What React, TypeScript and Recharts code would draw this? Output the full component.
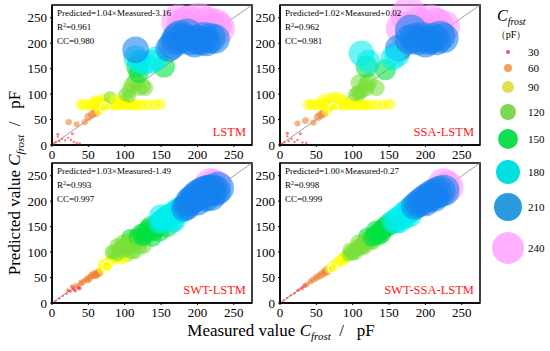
import React from 'react';
import { ScatterChart, Scatter, XAxis, YAxis, ReferenceLine, ReferenceArea } from 'recharts';

const axisTicks = [0, 50, 100, 150, 200, 250];
const axisMax = 275;

// colour bins by predicted value
const binUpper = [35, 65, 93, 128, 158, 186, 228];
const binColors = ['#ff2020', '#f08030', '#ffff00', '#78e038', '#00e040', '#00eeee', '#1482f0', '#ff98ff'];

// legend
const legendValues = [30, 60, 90, 120, 150, 180, 210, 240];
const legendColors = ['#f25566', '#f2a060', '#e0e050', '#80d850', '#10dd50', '#00e0e0', '#2a9be0', '#ffb0ff'];

// ---------- LSTM ----------
const lstmMeasured = [
  174, 188, 202, 214, 224, 229, 180,
  2, 5, 8, 8, 10, 14, 18, 22, 26, 28, 30, 34, 38,
  23, 34, 45, 50, 55, 60, 64,
  40, 45, 50, 55, 58, 62, 66, 70, 74, 78, 82, 86, 90, 94, 98, 102, 106, 110, 114, 118, 124, 132, 141, 149,
  60, 68, 76, 80, 88, 96, 65,
  101, 106, 110, 115, 124, 128, 119,
  106, 119, 117, 154,
  120, 138, 143, 128, 115,
  115, 161, 165, 172, 176, 182, 190, 196, 200, 206, 212, 218, 224, 208, 186, 170,
];
const lstmPredicted = [
  242, 240, 245, 238, 235, 229, 235,
  3, 6, 21, 16, 8, 12, 9, 14, 10, 22, 6, 4, 3,
  45, 41, 45, 55, 60, 64, 67,
  79, 80, 78, 80, 82, 79, 81, 78, 80, 79, 80, 78, 80, 79, 81, 80, 78, 80, 79, 78, 79, 79, 79, 80,
  86, 88, 90, 93, 88, 86, 72,
  99, 107, 118, 125, 116, 112, 112,
  96, 141, 154, 154,
  164, 164, 170, 160, 172,
  187, 190, 196, 211, 215, 210, 205, 200, 207, 205, 203, 210, 208, 212, 218, 205,
];
const lstmRingM = [73];
const lstmRingP = [73];

// ---------- SSA-LSTM ----------
const ssaMeasured = [
  177, 168, 190, 207, 215, 225, 180,
  2, 6, 10, 10, 12, 16, 20, 24, 28, 31, 36,
  24, 35, 46, 52, 56, 60, 64,
  39, 44, 49, 54, 58, 62, 66, 70, 74, 78, 82, 86, 90, 94, 98, 102, 106, 110, 114, 118, 124, 132, 142, 151,
  60, 68, 76, 82, 90, 66,
  103, 109, 119, 133, 112, 107,
  109, 122, 145, 118,
  119, 122, 161, 163, 155, 112,
  185, 190, 196, 200, 205, 210, 215, 220, 225, 178,
];
const ssaPredicted = [
  255, 229, 238, 242, 236, 232, 225,
  3, 5, 23, 17, 8, 12, 6, 10, 22, 5, 4,
  42, 48, 44, 55, 59, 62, 66,
  79, 80, 78, 80, 81, 79, 80, 78, 80, 79, 80, 78, 80, 79, 81, 80, 78, 80, 79, 78, 79, 79, 79, 80,
  88, 90, 92, 90, 86, 72,
  99, 122, 111, 112, 106, 103,
  101, 125, 148, 118,
  154, 164, 178, 190, 170, 180,
  210, 205, 212, 200, 206, 210, 205, 214, 210, 207,
];
const ssaRingM = [73];
const ssaRingP = [72];

// ---------- SWT-LSTM ----------
const swtMeasured = [
  218, 224, 228,
  5, 10, 15, 20, 25, 28, 30, 33, 36, 40, 22, 32, 38,
  40, 44, 48, 52, 55, 58, 62, 65, 50, 60,
  68, 72, 75, 78, 80, 84, 70, 76, 88,
  104, 114, 126, 138, 148, 82, 90, 98, 108,
  95, 100, 110, 120, 85, 90, 92, 96, 100, 102, 105, 108, 110, 112, 115, 118, 120, 122, 125, 128, 130, 133, 136, 140, 145,
  158, 168, 165, 150, 148, 152, 156, 160, 165, 170, 175, 178, 182,
  186, 188, 192, 196, 200, 204, 208, 212, 216, 220, 224, 200, 210, 218,
];
const swtPredicted = [
  232, 230, 226,
  4, 9, 14, 18, 23, 32, 27, 35, 30, 38, 25, 24, 29,
  40, 43, 47, 50, 54, 56, 58, 60, 45, 54,
  66, 70, 76, 80, 84, 88, 76, 72, 90,
  94, 100, 112, 128, 140, 100, 112, 118, 128,
  88, 92, 100, 110, 100, 95, 105, 110, 102, 115, 108, 120, 112, 126, 118, 130, 122, 136, 130, 140, 135, 145, 150, 142, 152,
  150, 162, 160, 170, 158, 162, 166, 170, 173, 178, 182, 184, 186,
  190, 198, 203, 207, 212, 215, 218, 220, 221, 222, 220, 200, 208, 210,
];
const swtRingM = [76];
const swtRingP = [72];

// ---------- SWT-SSA-LSTM ----------
const swtSsaMeasured = [
  225, 230,
  5, 10, 15, 20, 25, 30, 34, 37,
  42, 46, 50, 54, 58, 62, 65,
  68, 72, 76, 80, 84, 88, 90,
  96, 108, 120, 132, 104, 116, 128, 140,
  100, 112, 124, 136, 94, 98, 102, 106, 110, 114, 118, 122, 126, 130, 134, 138, 142, 146,
  165, 178, 160, 172, 150, 155, 160, 165, 170, 175, 180,
  200, 212, 185, 190, 195, 200, 205, 210, 215, 220, 225,
];
const swtSsaPredicted = [
  232, 228,
  5, 10, 15, 19, 25, 29, 34, 36,
  42, 46, 50, 53, 57, 61, 64,
  67, 72, 76, 80, 84, 88, 91,
  104, 118, 130, 142, 98, 110, 122, 136,
  96, 108, 120, 132, 95, 100, 104, 108, 112, 116, 120, 124, 128, 132, 137, 141, 146, 150,
  160, 172, 158, 170, 155, 160, 164, 169, 174, 179, 184,
  198, 208, 190, 195, 200, 205, 209, 213, 216, 219, 221,
];
const swtSsaRingM = [73];
const swtSsaRingP = [68];

const colorOf = (p: number) => {
  for (let i = 0; i < binUpper.length; i++) if (p < binUpper[i]) return binColors[i];
  return binColors[binColors.length - 1];
};
const radiusOf = (p: number) => Math.max(1.2, p / 14);

const renderBubble = (props: any) => {
  const { cx, cy, payload } = props;
  if (cx == null || cy == null) return <g />;
  return <circle cx={cx} cy={cy} r={radiusOf(payload.p)} fill={colorOf(payload.p)} fillOpacity={0.58} stroke="none" />;
};
const renderRing = (props: any) => {
  const { cx, cy, payload } = props;
  if (cx == null || cy == null) return <g />;
  return <circle cx={cx} cy={cy} r={radiusOf(payload.p)} fill="none" stroke="#ffffff" strokeWidth={1.2} />;
};

const serif = 'Liberation Serif';

const XTick = (props: any) => {
  const { x, y, payload } = props;
  return (
    <text x={x} y={y + 10} textAnchor="middle" fontSize={13} fontFamily={serif} fill="#000">{payload.value}</text>
  );
};
const YTick = (props: any) => {
  const { x, y, payload } = props;
  return (
    <text x={x - 1} y={y + 4.5} textAnchor="end" fontSize={13} fontFamily={serif} fill="#000">{payload.value}</text>
  );
};

type PanelProps = {
  left: number;
  top: number;
  measured: number[];
  predicted: number[];
  ringM: number[];
  ringP: number[];
};

function Panel({ left, top, measured, predicted, ringM, ringP }: PanelProps) {
  const data = measured.map((m, i) => ({ m, p: predicted[i] }));
  const ring = ringM.map((m, i) => ({ m, p: ringP[i] }));
  return (
    <div style={{ position: 'absolute', left: left - 40, top: top - 5 }}>
      <ScatterChart width={248} height={165} margin={{ top: 5, right: 8, bottom: 0, left: 0 }} style={{ overflow: 'visible' }}>
        <XAxis type="number" dataKey="m" domain={[0, axisMax]} ticks={axisTicks} interval={0} height={20} tickSize={2} tick={<XTick />} axisLine={{ stroke: '#000', strokeWidth: 1.5 }} tickLine={{ stroke: '#000' }} />
        <YAxis type="number" dataKey="p" domain={[0, axisMax]} ticks={axisTicks} interval={0} width={40} tickSize={2} tick={<YTick />} axisLine={{ stroke: '#000', strokeWidth: 1.5 }} tickLine={{ stroke: '#000' }} />
        <Scatter data={data} shape={renderBubble} isAnimationActive={false} />
        <Scatter data={ring} shape={renderRing} isAnimationActive={false} />
        <ReferenceLine segment={[{ x: 0, y: 0 }, { x: axisMax, y: axisMax }]} stroke="#888" strokeWidth={0.8} />
        <ReferenceArea x1={0} x2={axisMax} y1={0} y2={axisMax} fill="none" stroke="#000" strokeWidth={1.5} />
      </ScatterChart>
    </div>
  );
}

const panels = [
  { left: 52, top: 5, measured: lstmMeasured, predicted: lstmPredicted, ringM: lstmRingM, ringP: lstmRingP, eq: 'Predicted=1.04×Measured-3.16', r2: '0.961', cc: '0.980', name: 'LSTM' },
  { left: 280, top: 5, measured: ssaMeasured, predicted: ssaPredicted, ringM: ssaRingM, ringP: ssaRingP, eq: 'Predicted=1.02×Measured+0.02', r2: '0.962', cc: '0.981', name: 'SSA-LSTM' },
  { left: 52, top: 163, measured: swtMeasured, predicted: swtPredicted, ringM: swtRingM, ringP: swtRingP, eq: 'Predicted=1.03×Measured-1.49', r2: '0.993', cc: '0.997', name: 'SWT-LSTM' },
  { left: 280, top: 163, measured: swtSsaMeasured, predicted: swtSsaPredicted, ringM: swtSsaRingM, ringP: swtSsaRingP, eq: 'Predicted=1.00×Measured-0.27', r2: '0.998', cc: '0.999', name: 'SWT-SSA-LSTM' },
];

const legendY = [52, 68, 87, 112, 139, 172, 207, 248];
const sep = '\u00a0\u00a0/\u00a0\u00a0\u00a0pF';

export default function App() {
  return (
    <div style={{ position: 'absolute', left: 0, top: 0, width: 550, height: 351, background: '#fff', overflow: 'hidden', fontFamily: serif }}>
      {panels.map((pn) => (
        <Panel key={pn.name} left={pn.left} top={pn.top} measured={pn.measured} predicted={pn.predicted} ringM={pn.ringM} ringP={pn.ringP} />
      ))}
      <svg width={550} height={351} style={{ position: 'absolute', left: 0, top: 0, pointerEvents: 'none' }} fontFamily={serif}>
        {panels.map((pn) => (
          <g key={pn.name}>
            <text x={pn.left + 5} y={pn.top + 11} fontSize={9} fill="#000">{pn.eq}</text>
            <text x={pn.left + 5} y={pn.top + 25} fontSize={9} fill="#000">R<tspan dy={-3} fontSize={6}>2</tspan><tspan dy={3}>={pn.r2}</tspan></text>
            <text x={pn.left + 5} y={pn.top + 39} fontSize={9} fill="#000">CC={pn.cc}</text>
            <text x={pn.left + 194} y={pn.top + 131} fontSize={12.5} fill="#ff1a1a" textAnchor="end">{pn.name}</text>
          </g>
        ))}
        <text x={281} y={336} fontSize={17} textAnchor="middle" fill="#000">
          Measured value <tspan fontStyle="italic">C</tspan><tspan fontStyle="italic" fontSize={11} dy={4}>frost</tspan><tspan dy={-4}>{sep}</tspan>
        </text>
        <text transform="translate(20,183) rotate(-90)" x={0} y={0} fontSize={17} textAnchor="middle" fill="#000">
          Predicted value <tspan fontStyle="italic">C</tspan><tspan fontStyle="italic" fontSize={11} dy={4}>frost</tspan><tspan dy={-4}>{sep}</tspan>
        </text>
        <text x={497} y={21} fontSize={16} fill="#000" fontStyle="italic">C<tspan fontSize={10} dy={4}>frost</tspan></text>
        <text x={511} y={38} fontSize={10} fill="#000" textAnchor="middle">（pF）</text>
        {legendValues.map((v, i) => (
          <g key={v}>
            <circle cx={508} cy={legendY[i]} r={v / 15} fill={legendColors[i]} />
            <text x={528} y={legendY[i] + 4} fontSize={11} fill="#000">{v}</text>
          </g>
        ))}
      </svg>
    </div>
  );
}
